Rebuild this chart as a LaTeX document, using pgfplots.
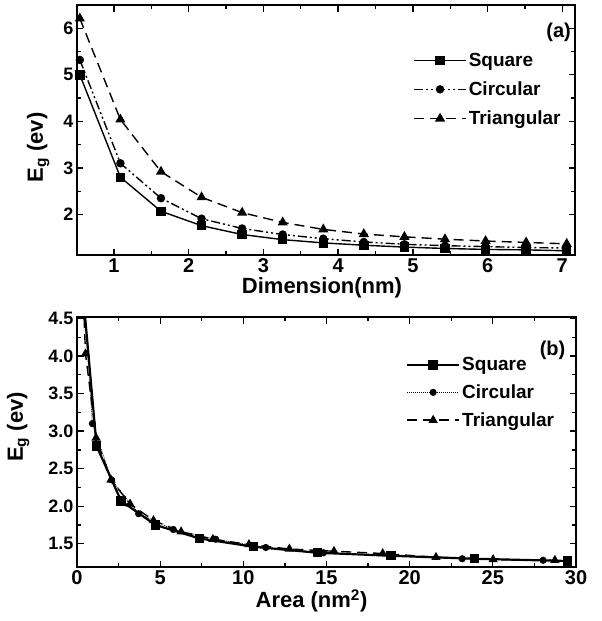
\documentclass[border=0pt]{standalone}
\usepackage{fontspec}
\setmainfont{Liberation Sans}
\usepackage{pgfplots}
\pgfplotsset{compat=1.18}

\pgfplotsset{
  egaxis/.style={
    scale only axis, width=498pt, height=250pt,
    axis line style={line width=1.8pt},
    tick style={line width=1.3pt, black},
    major tick length=6.5pt, minor tick length=4pt,
    tick align=inside,
    xticklabel={\textbf{\pgfmathprintnumber[assume math mode=true]{\tick}}},
    yticklabel={\textbf{\pgfmathprintnumber[assume math mode=true]{\tick}}},
    yticklabel style={font=\fontsize{18}{18}\selectfont\bfseries},
    xticklabel style={font=\fontsize{20}{20}\selectfont\bfseries},
    xlabel style={font=\fontsize{22}{22}\selectfont\bfseries, inner sep=1pt},
    ylabel style={font=\fontsize{22}{22}\selectfont\bfseries, anchor=center},
    legend style={draw=none, fill=none, font=\fontsize{19}{19}\selectfont\bfseries, row sep=10pt},
    legend cell align=left,
    legend image code/.code={\draw[mark repeat=2, mark phase=2] plot coordinates {(0pt,0pt) (26pt,0pt) (52pt,0pt)};},
  },
  sq/.style={black, mark=square*, mark size=4pt, mark options={solid}},
  ci/.style={black, mark=*, mark size=3.5pt, mark options={solid}},
  tr/.style={black, mark=triangle*, mark size=4.5pt, mark options={solid}},
}

\begin{document}
\begin{tikzpicture}
% (a) band gap against dimension
\begin{axis}[egaxis, at={(0,0)}, anchor=north west,
  xmin=0.505, xmax=7.17, ymin=1.13, ymax=6.5,
  xtick={1,...,7}, ytick={2,...,6},
  minor x tick num=1, minor y tick num=1,
  xlabel={Dimension(nm)}, ylabel={E\textsubscript{g} (ev)},
  xlabel style={xshift=-4pt},
  ylabel style={at={(axis description cs:-0.078,0.43)}},
  legend style={at={(axis description cs:0.669,0.825)}, anchor=north west},
  ]
\addplot[sq, line width=1.4pt] coordinates {
  (0.543,5.00) (1.086,2.80) (1.629,2.07) (2.172,1.76) (2.715,1.57)
  (3.258,1.46) (3.801,1.39) (4.344,1.34) (4.887,1.30) (5.430,1.27)
  (5.973,1.25) (6.516,1.24) (7.059,1.22)};
\addlegendentry{Square}
\addplot[ci, line width=1.4pt, dash pattern=on 9pt off 3pt on 2pt off 3pt on 2pt off 3pt] coordinates {
  (0.543,5.32) (1.086,3.10) (1.629,2.35) (2.172,1.91) (2.715,1.70)
  (3.258,1.57) (3.801,1.48) (4.344,1.41) (4.887,1.36) (5.430,1.33)
  (5.973,1.31) (6.516,1.29) (7.059,1.28)};
\addlegendentry{Circular}
\addplot[tr, line width=1.4pt, dash pattern=on 10pt off 6pt] coordinates {
  (0.543,6.21) (1.086,4.04) (1.629,2.92) (2.172,2.37) (2.715,2.04)
  (3.258,1.83) (3.801,1.68) (4.344,1.58) (4.887,1.52) (5.430,1.47)
  (5.973,1.43) (6.516,1.40) (7.059,1.37)};
\addlegendentry{Triangular}
\node[font=\fontsize{20}{20}\selectfont\bfseries] at (axis description cs:0.967,0.89) {(a)};
\end{axis}

% (b) band gap against area
\begin{axis}[egaxis, at={(0,-312pt)}, anchor=north west, width=499pt,
  xmin=0, xmax=30, ymin=1.19, ymax=4.52,
  xtick={0,5,...,30}, ytick={1.5,2,...,4.5},
  minor x tick num=1, minor y tick num=1,
  yticklabel={\textbf{\pgfmathprintnumber[assume math mode=true, fixed, fixed zerofill, precision=1]{\tick}}},
  clip marker paths=true,
  xlabel={Area (nm\textsuperscript{2})}, ylabel={E\textsubscript{g} (ev)},
  xlabel style={xshift=-15pt},
  ylabel style={at={(axis description cs:-0.118,0.56)}},
  legend style={at={(axis description cs:0.653,0.855)}, anchor=north west, row sep=8.5pt},
  ]
\addplot[sq, mark size=3.6pt, line width=2.2pt] coordinates {
  (0.295,5.00) (1.179,2.80) (2.653,2.07) (4.717,1.75) (7.370,1.57)
  (10.61,1.46) (14.45,1.38) (18.87,1.34) (23.88,1.30) (29.48,1.27)};
\addlegendentry{Square}
\addplot[ci, mark size=3.2pt, line width=0.7pt, dash pattern=on 1pt off 1pt] coordinates {
  (0.232,5.32) (0.926,3.10) (2.084,2.35) (3.705,1.90) (5.790,1.69)
  (8.340,1.56) (11.35,1.45) (14.82,1.38) (18.76,1.34) (23.16,1.30)
  (28.02,1.28)};
\addlegendentry{Circular}
\addplot[tr, mark size=4pt, line width=1.4pt, dash pattern=on 10pt off 6pt] coordinates {
  (0.128,6.21) (0.511,4.03) (1.149,2.91) (2.043,2.35) (3.190,2.03)
  (4.600,1.81) (6.260,1.66) (8.170,1.56) (10.34,1.49) (12.77,1.43)
  (15.45,1.40) (18.38,1.37) (21.58,1.32) (25.02,1.29) (28.73,1.28)};
\addlegendentry{Triangular}
\node[font=\fontsize{20}{20}\selectfont\bfseries] at (axis description cs:0.953,0.868) {(b)};
\end{axis}

\pgfresetboundingbox
\path[use as bounding box] (-77pt,5pt) rectangle (525pt,-616pt);
\end{tikzpicture}
\end{document}
